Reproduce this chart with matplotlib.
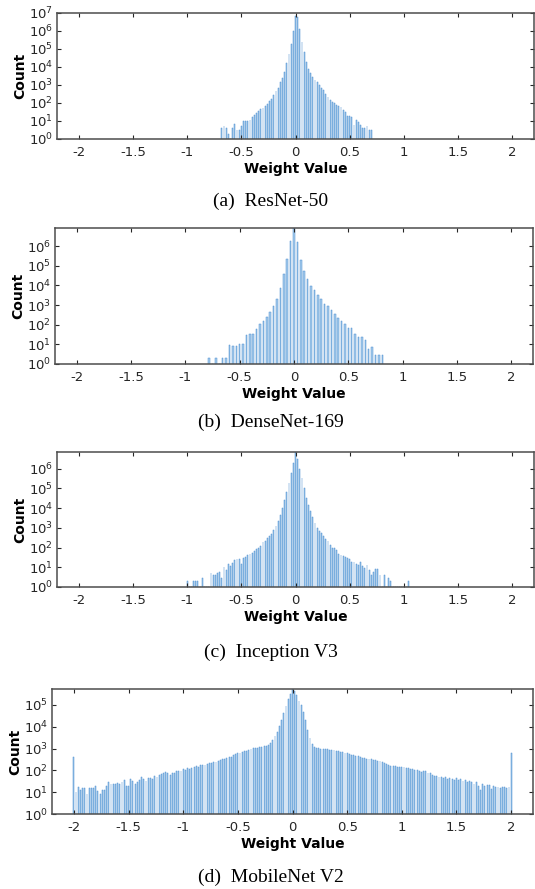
import numpy as np
import matplotlib
matplotlib.use("Agg")
import matplotlib.pyplot as plt
from matplotlib.ticker import NullLocator

plt.rcParams['font.family'] = 'DejaVu Sans'
plt.rcParams['axes.unicode_minus'] = False

# Histogram data (counts per bin)
resnet_centers = np.round(np.arange(-0.68, 0.701, 0.02), 2)
resnet_counts = [4, 5, 4, 2, 1, 4, 7, 3, 3, 5, 10, 10, 10, 11, 16, 21, 27, 35, 46, 56,
                 71, 89, 126, 158, 282, 447, 708, 1413, 2512, 5623, 15849, 50119, 177828,
                 1000000, 7080000, 6310000, 1260000, 251189, 70795, 19953, 7943, 4467,
                 2818, 1905, 1380, 1000, 708, 501, 316, 224, 148, 120, 95, 79, 68, 59, 40,
                 32, 20, 18, 16, 6, 11, 9, 6, 4, 4, 5, 3, 3]

densenet_centers = np.arange(-25, 27) / 32
densenet_counts = [2, 1, 2, 1, 2, 2, 9, 8, 8, 11, 11, 30, 34, 34, 59, 110, 162, 245, 468,
                   851, 1995, 7413, 39811, 223872, 1949845, 8500000, 1737801, 208930,
                   52481, 21380, 9772, 6026, 3388, 1995, 1175, 851, 537, 363, 214, 162,
                   110, 66, 72, 34, 23, 25, 17, 6, 7, 3, 3, 3]

inception_centers = np.round(np.arange(-1.00, 1.041, 0.02), 2)
inception_counts = [2, 1, 1, 2, 2, 2, 1, 3, 1, 1, 1, 5, 4, 4, 5, 6, 3, 10, 7, 14, 11, 17,
                    23, 25, 25, 14, 31, 34, 43, 48, 55, 66, 85, 100, 115, 191, 209, 302,
                    363, 501, 794, 1259, 2239, 4467, 10000, 25119, 67608, 177828, 630957,
                    1995262, 6918310, 3162278, 1000000, 316228, 100000, 33113, 14791, 6918,
                    3388, 1778, 1000, 724, 525, 380, 263, 204, 132, 93, 100, 72, 49, 41,
                    38, 32, 30, 25, 18, 19, 14, 13, 19, 11, 9, 13, 7, 4, 6, 8, 8, 4, 1, 4,
                    1, 3, 2, 1, 1, 1, 1, 1, 1, 1, 2]

mobilenet_centers = np.round(np.arange(-2.00, 2.001, 0.02), 2)
mobilenet_counts = [427, 10, 18, 12, 15, 15, 8, 15, 15, 15, 19, 11, 8, 13, 13, 19, 28, 24,
                    24, 24, 26, 24, 28, 36, 19, 20, 40, 34, 24, 30, 36, 48, 39, 34, 45, 45,
                    39, 55, 51, 60, 68, 72, 83, 72, 62, 79, 79, 91, 89, 95, 120, 105, 126,
                    120, 129, 148, 158, 148, 170, 178, 182, 195, 209, 224, 234, 240, 269,
                    302, 324, 347, 355, 427, 427, 513, 550, 603, 646, 692, 741, 794, 851,
                    933, 1023, 1072, 1096, 1148, 1202, 1259, 1380, 1514, 1738, 2399, 3631,
                    5754, 10471, 20417, 44668, 89125, 177828, 331131, 537032, 416869,
                    288403, 158489, 95499, 48978, 20417, 7079, 2951, 1622, 1230, 1096,
                    1047, 1000, 977, 955, 933, 891, 851, 832, 794, 759, 708, 676, 646, 603,
                    589, 525, 501, 479, 437, 407, 380, 363, 347, 331, 316, 309, 302, 282,
                    263, 240, 214, 195, 178, 166, 158, 151, 145, 148, 145, 138, 135, 126,
                    120, 115, 105, 100, 91, 85, 98, 89, 79, 72, 63, 55, 58, 52, 50, 46, 50,
                    42, 44, 40, 38, 44, 36, 39, 32, 35, 28, 33, 30, 25, 29, 19, 13, 24, 20,
                    22, 21, 14, 20, 17, 18, 16, 18, 17, 16, 17, 603]

x_ticks = [-2, -1.5, -1, -0.5, 0, 0.5, 1, 1.5, 2]
x_tick_labels = ['-2', '-1.5', '-1', '-0.5', '0', '0.5', '1', '1.5', '2']

captions = ['(a)  ResNet-50', '(b)  DenseNet-169', '(c)  Inception V3', '(d)  MobileNet V2']

W, H = 535, 889
fig = plt.figure(figsize=(W / 100, H / 100), dpi=100)

# axes boxes in pixels: left, right, top, bottom
boxes = [(57, 534, 13, 139), (55, 533, 228, 364), (57, 534, 452, 587), (52, 533, 689, 814)]
caption_y = [201, 422, 652, 877]
panels = [
    (resnet_centers, resnet_counts, 0.02, 0.4, 1e7, 7),
    (densenet_centers, densenet_counts, 1 / 32, 0.45, max(densenet_counts), 6),
    (inception_centers, inception_counts, 0.02, 0.4, max(inception_counts), 6),
    (mobilenet_centers, mobilenet_counts, 0.02, 0.4, max(mobilenet_counts), 5),
]

axis_color = '#4d4d4d'
for (l, r, t, b), (xc, cnt, step, frac, ytop, ymaxexp), cap, cy in zip(boxes, panels, captions, caption_y):
    ax = fig.add_axes([l / W, 1 - b / H, (r - l) / W, (b - t) / H])
    ax.bar(xc, cnt, width=step * frac, color='#a9cced', edgecolor='#4a8fd0',
           linewidth=0.35, log=True)
    ax.set_yscale('log')
    ax.set_xlim(-2.2, 2.2)
    ax.set_ylim(1, ytop)
    ax.set_xticks(x_ticks)
    ax.set_xticklabels(x_tick_labels)
    ax.set_yticks([10 ** k for k in range(ymaxexp + 1)])
    ax.yaxis.set_minor_locator(NullLocator())
    ax.tick_params(direction='in', top=True, right=True, length=3, width=0.8,
                   labelsize=9.5, colors='#262626', pad=5)
    ax.tick_params(axis='y', pad=3)
    for s in ax.spines.values():
        s.set_color(axis_color)
        s.set_linewidth(1.1)
    ax.set_xlabel('Weight Value', fontsize=10, fontweight='bold', labelpad=2)
    ax.set_ylabel('Count', fontsize=10, fontweight='bold', labelpad=1)
    fig.text(271 / W, 1 - cy / H, cap, ha='center', va='center',
             fontsize=14, family='Liberation Serif')

fig.savefig('out.png', dpi=100)
